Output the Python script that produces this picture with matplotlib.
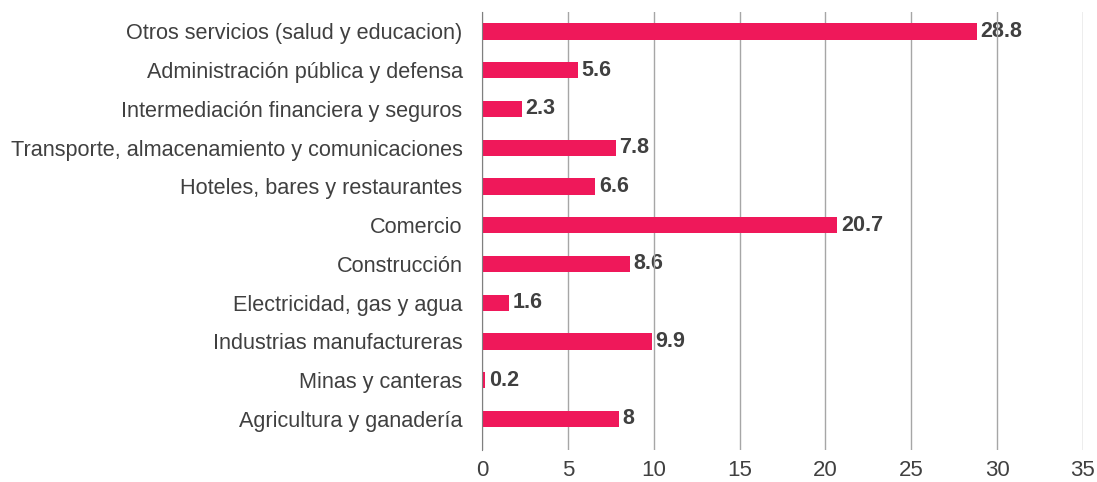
import numpy as np
import matplotlib as mpl
mpl.use('Agg')
import matplotlib.pyplot as plt

plt.rcParams['font.family'] = ['Liberation Sans', 'DejaVu Sans']

categories = ["Agricultura y ganadería", "Minas y canteras", "Industrias manufactureras",
              "Electricidad, gas y agua", "Construcción", "Comercio",
              "Hoteles, bares y restaurantes", "Transporte, almacenamiento y comunicaciones",
              "Intermediación financiera y seguros", "Administración pública y defensa",
              "Otros servicios (salud y educacion)"]
values = [8, 0.2, 9.9, 1.6, 8.6, 20.7, 6.6, 7.8, 2.3, 5.6, 28.8]
labels = ["8", "0.2", "9.9", "1.6", "8.6", "20.7", "6.6", "7.8", "2.3", "5.6", "28.8"]
xticks = [0, 5, 10, 15, 20, 25, 30, 35]

txt = "#404040"
fig = plt.figure(figsize=(10.97, 4.82), dpi=100)
ax = fig.add_axes([0.4394, 0.0664, 0.5478, 0.9086])

y = np.arange(len(categories))
ax.barh(y, values, height=0.42, color="#EF185A", zorder=3)
for yi, v, lab in zip(y, values, labels):
    ax.text(v + 0.2, yi, lab, va="center", ha="left", fontsize=15.5, fontweight="bold", color=txt, zorder=1)

ax.set_xlim(0, 35)
ax.set_ylim(-0.8, 10.5)
ax.set_xticks(xticks)
ax.set_xticklabels([str(t) for t in xticks])
ax.set_yticks(y)
ax.set_yticklabels(categories)
ax.tick_params(axis="y", length=0, pad=14, labelsize=15.6, labelcolor=txt)
ax.tick_params(axis="x", length=0, pad=7, labelsize=16, labelcolor=txt)
ax.grid(axis="x", color="#A6A6A6", lw=1, zorder=2)
ax.set_axisbelow(False)
for s in ["top", "right", "bottom"]:
    ax.spines[s].set_visible(False)
ax.spines["left"].set_color("#7F7F7F")
ax.spines["left"].set_zorder(5)

fig.savefig("out.png", dpi=100)
